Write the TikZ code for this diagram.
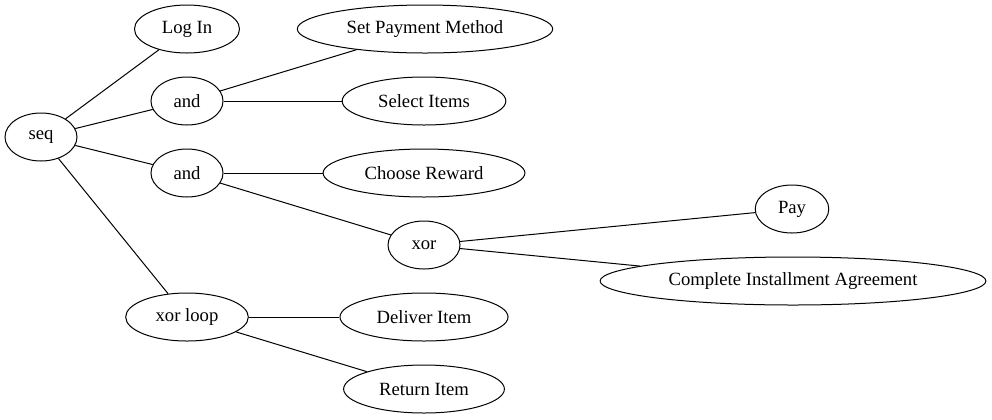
\documentclass[tikz,border=0pt]{standalone}
\usepackage{fontspec}
\setmainfont{Liberation Serif}
\usetikzlibrary{shapes.geometric}

\tikzset{
  tnode/.style={draw, ellipse, line width=0.75pt, font=\fontsize{14}{16}\selectfont,
    minimum width=54pt, minimum height=36pt, inner xsep=9pt, inner ysep=2pt},
  tedge/.style={line width=0.75pt}
}

\begin{document}
\begin{tikzpicture}[x=0.75pt, y=-0.75pt]
  \useasboundingbox (0,0) rectangle (992,419);
  \node[tnode] (seq) at (41,137) {seq};
  \node[tnode] (login) at (187,29) {Log In};
  \node[tnode] (and1) at (187,101) {and};
  \node[tnode] (and2) at (187,173) {and};
  \node[tnode] (xorloop) at (187,317) {xor loop};
  \node[tnode] (setpay) at (425,29) {Set Payment Method};
  \node[tnode] (select) at (424,101) {Select Items};
  \node[tnode] (choose) at (424,173) {Choose Reward};
  \node[tnode] (xor) at (424,245) {xor};
  \node[tnode] (deliver) at (424,317) {Deliver Item};
  \node[tnode] (return) at (424,389) {Return Item};
  \node[tnode] (pay) at (792,209) {Pay};
  \node[tnode] (complete) at (793,281) {Complete Installment Agreement};

  \draw[tedge] (seq) -- (login);
  \draw[tedge] (seq) -- (and1);
  \draw[tedge] (seq) -- (and2);
  \draw[tedge] (seq) -- (xorloop);
  \draw[tedge] (and1) -- (setpay);
  \draw[tedge] (and1) -- (select);
  \draw[tedge] (and2) -- (choose);
  \draw[tedge] (and2) -- (xor);
  \draw[tedge] (xor) -- (pay);
  \draw[tedge] (xor) -- (complete);
  \draw[tedge] (xorloop) -- (deliver);
  \draw[tedge] (xorloop) -- (return);
\end{tikzpicture}
\end{document}
